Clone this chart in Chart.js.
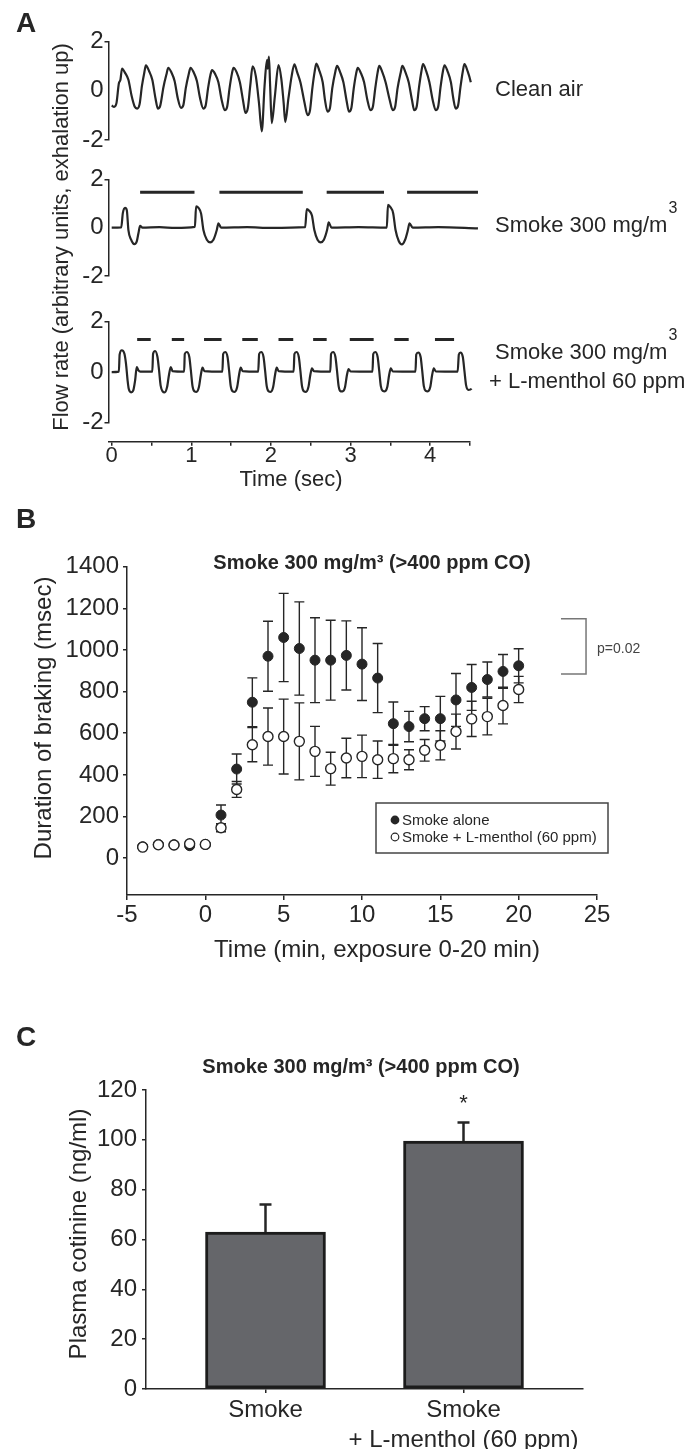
<!DOCTYPE html>
<html>
<head>
<meta charset="utf-8">
<script src="https://cdn.jsdelivr.net/npm/chart.js@4.4.1/dist/chart.umd.min.js"></script>
<style>
  html, body { margin: 0; padding: 0; background: #fff; }
  #page { position: relative; width: 689px; height: 1454px; overflow: hidden; background: #fff; }
  canvas { position: absolute; left: 0; }
</style>
</head>
<body>
<div id="page">
  <canvas id="a1" width="689" height="160" style="top:0px"></canvas>
  <canvas id="a2" width="689" height="140" style="top:160px"></canvas>
  <canvas id="a3" width="689" height="140" style="top:300px"></canvas>
  <canvas id="a4" width="689" height="500" style="top:0px"></canvas>
  <canvas id="b" width="689" height="500" style="top:500px"></canvas>
  <canvas id="c" width="689" height="454" style="top:1000px"></canvas>
</div>
<script>
const INK = '#262626';
const FONT = "'Liberation Sans', Arial, sans-serif";
Chart.defaults.font.family = FONT;
Chart.defaults.color = INK;

// ---- Panel A: flow traces, [time (s), flow (a.u.)]
const cleanAir = [[0.0,-0.6],[0.03,-0.65],
  [0.06,-0.5],[0.09,0.3],[0.11,0.45],[0.13,0.91],[0.17,0.72],[0.21,0.45],[0.25,-0.2],[0.29,-0.65],[0.32,-0.72],
  [0.35,-0.55],[0.38,0.2],[0.41,0.75],[0.43,1.04],[0.47,0.8],[0.51,0.45],[0.55,-0.3],[0.58,-0.72],
  [0.61,-0.6],[0.65,0.15],[0.69,0.7],[0.71,0.94],[0.75,0.75],[0.79,0.4],[0.83,-0.3],[0.87,-0.69],
  [0.9,-0.58],[0.93,0.1],[0.97,0.72],[0.99,0.94],[1.03,0.75],[1.07,0.4],[1.11,-0.3],[1.15,-0.72],
  [1.18,-0.6],[1.21,0.1],[1.24,0.65],[1.26,0.84],[1.3,0.68],[1.34,0.35],[1.38,-0.35],[1.42,-0.79],
  [1.45,-0.65],[1.48,0.1],[1.51,0.7],[1.53,0.94],[1.57,0.75],[1.61,0.35],[1.65,-0.4],[1.68,-0.9],
  [1.71,-0.7],[1.74,0.2],[1.77,1.0],[1.81,0.6],[1.85,-0.5],[1.885,-1.65],
  [1.92,0.2],[1.95,1.25],[1.96,0.9],[1.975,1.39],[1.99,0.2],[2.01,-1.31],[2.05,-0.2],[2.095,1.05],[2.13,0.5],
  [2.16,-0.5],[2.18,-1.27],[2.22,-0.3],[2.26,0.6],[2.295,1.08],[2.33,0.75],[2.37,0.35],[2.42,-0.45],[2.46,-0.99],
  [2.49,-0.8],[2.52,0.1],[2.55,0.8],[2.57,1.11],[2.61,0.8],[2.65,0.35],[2.68,-0.4],[2.71,-0.85],
  [2.74,-0.72],[2.77,0.1],[2.81,0.8],[2.83,1.02],[2.87,0.75],[2.91,0.35],[2.95,-0.4],[2.98,-0.85],
  [3.01,-0.7],[3.04,0.1],[3.07,0.7],[3.09,0.94],[3.13,0.72],[3.17,0.35],[3.21,-0.35],[3.25,-0.79],
  [3.28,-0.65],[3.31,0.1],[3.34,0.75],[3.36,1.02],[3.4,0.75],[3.44,0.35],[3.49,-0.35],[3.53,-0.79],
  [3.56,-0.65],[3.59,0.1],[3.63,0.75],[3.65,1.02],[3.69,0.75],[3.73,0.35],[3.77,-0.35],[3.8,-0.79],
  [3.83,-0.65],[3.86,0.15],[3.89,0.8],[3.91,1.09],[3.95,0.8],[3.99,0.35],[4.03,-0.35],[4.07,-0.79],
  [4.1,-0.65],[4.13,0.15],[4.16,0.8],[4.18,1.04],[4.22,0.78],[4.26,0.35],[4.29,-0.3],[4.32,-0.72],
  [4.35,-0.6],[4.38,0.15],[4.41,0.8],[4.43,1.09],[4.47,0.8],[4.51,0.35],[4.55,-0.35],[4.57,-0.65]];
const smoke300 = [[0.0,0],[0.12,0.01],[0.14,0.6],[0.168,0.82],[0.19,0.72],[0.21,-0.1],[0.244,-0.5],[0.27,-0.66],[0.286,-0.68],
  [0.315,-0.57],[0.336,-0.23],[0.357,0.07],[0.386,0.0],[0.6,0.02],[0.8,-0.01],[1.045,0.03],
  [1.06,0.88],[1.09,0.82],[1.123,0.58],[1.152,-0.1],[1.195,-0.5],[1.236,-0.61],[1.278,-0.5],[1.32,-0.1],[1.34,0.18],
  [1.374,0.0],[1.7,0.02],[2.0,-0.01],[2.43,0.02],
  [2.45,0.77],[2.48,0.7],[2.515,0.5],[2.545,-0.1],[2.585,-0.5],[2.625,-0.61],[2.665,-0.5],[2.705,-0.1],[2.725,0.22],
  [2.76,0.0],[3.1,0.02],[3.455,0],
  [3.47,0.94],[3.5,0.85],[3.535,0.6],[3.565,-0.1],[3.605,-0.55],[3.645,-0.69],[3.685,-0.5],[3.72,-0.1],[3.74,0.18],
  [3.78,0],[4.1,0.02],[4.6,-0.03]];
const smokeMenthol = [[0.0,0.0],[0.09,0.02],
  [0.1,0.7],[0.127,0.87],[0.16,0.73],[0.18,0.33],[0.2,-0.33],[0.215,-0.67],[0.244,-0.8],[0.27,-0.73],[0.294,-0.33],[0.315,0.2],[0.336,0.07],[0.36,0.02],[0.51,0.02],
  [0.52,0.73],[0.545,0.84],[0.575,0.6],[0.595,0.07],[0.615,-0.53],[0.64,-0.76],[0.665,-0.8],[0.695,-0.6],[0.72,-0.1],[0.742,0.2],[0.765,0.04],[0.91,0.02],
  [0.918,0.72],[0.943,0.8],[0.975,0.6],[0.995,0.05],[1.015,-0.55],[1.04,-0.76],[1.065,-0.78],[1.095,-0.6],[1.12,-0.1],[1.14,0.18],[1.165,0.04],[1.39,0.02],
  [1.4,0.72],[1.425,0.8],[1.455,0.6],[1.475,0.05],[1.495,-0.55],[1.52,-0.76],[1.545,-0.78],[1.575,-0.6],[1.6,-0.1],[1.62,0.18],[1.645,0.04],[1.84,0.02],
  [1.852,0.72],[1.877,0.8],[1.907,0.6],[1.927,0.05],[1.947,-0.55],[1.972,-0.76],[1.997,-0.78],[2.027,-0.6],[2.052,-0.1],[2.072,0.18],[2.097,0.04],[2.285,0.02],
  [2.295,0.72],[2.32,0.8],[2.35,0.6],[2.37,0.05],[2.39,-0.55],[2.415,-0.76],[2.44,-0.78],[2.47,-0.6],[2.495,-0.1],[2.515,0.15],[2.54,0.04],[2.745,0.02],
  [2.755,0.72],[2.78,0.8],[2.81,0.6],[2.83,0.05],[2.85,-0.55],[2.875,-0.76],[2.9,-0.76],[2.93,-0.6],[2.955,-0.1],[2.975,0.12],[3.0,0.03],[3.275,0.02],
  [3.285,0.72],[3.31,0.8],[3.34,0.6],[3.36,0.05],[3.38,-0.55],[3.405,-0.74],[3.43,-0.76],[3.46,-0.6],[3.485,-0.1],[3.505,0.15],[3.53,0.03],[3.815,0.02],
  [3.825,0.7],[3.85,0.78],[3.88,0.6],[3.9,0.05],[3.92,-0.55],[3.945,-0.74],[3.97,-0.76],[4.0,-0.6],[4.025,-0.1],[4.045,0.15],[4.07,0.03],[4.345,0.02],
  [4.36,0.7],[4.38,0.78],[4.41,0.6],[4.43,0.05],[4.45,-0.5],[4.48,-0.7],[4.52,-0.65],[4.56,-0.4]];
// braking periods (start, end in s) and the level the bars sit at
const smokeBraking = [[0.357,1.04],[1.353,2.4],[2.7,3.42],[3.71,4.6]];
const mentholBraking = [[0.32,0.49],[0.755,0.91],[1.16,1.38],[1.64,1.835],[2.095,2.28],[2.53,2.7],[2.99,3.29],[3.55,3.73],[4.06,4.3]];
const smokeBarLevel = 1.46;
const mentholBarLevel = 1.3;
const flowTicks = [-2, 0, 2];
const secTicks = [0, 0.5, 1, 1.5, 2, 2.5, 3, 3.5, 4, 4.5];

// ---- Panel B: duration of braking (msec), mean and SEM
const minutes = [-4,-3,-2,-1,0,1,2,3,4,5,6,7,8,9,10,11,12,13,14,15,16,17,18,19,20];
const smokeAlone = [55,66,64,60,66,207,428,749,970,1060,1007,951,951,974,932,865,646,632,670,670,760,820,858,897,924];
const smokeAloneSem = [5,5,5,5,5,48,72,117,168,212,224,204,192,166,175,166,104,73,58,107,127,110,84,81,82];
const withMenthol = [53,64,63,69,66,146,330,545,584,584,561,513,430,481,489,473,478,473,518,542,608,669,680,733,810];
const withMentholSem = [5,5,5,5,5,19,38,82,137,180,185,120,79,95,102,90,68,48,52,70,84,85,88,88,63];
const minuteTicks = [-5, 0, 5, 10, 15, 20, 25];
const brakeTicks = [0, 200, 400, 600, 800, 1000, 1200, 1400];

// ---- Panel C: plasma cotinine (ng/ml)
const groups = ['Smoke', ['Smoke', '+ L-menthol (60 ppm)']];
const groupPos = [1, 2];
const cotinine = [63, 99.5];
const cotinineSem = [11, 7.5];
const cotTicks = [0, 20, 40, 60, 80, 100, 120];

// ---------- helpers
function txt(ctx, s, x, y, o = {}) {
  ctx.save();
  ctx.font = o.font || `22px ${FONT}`;
  ctx.fillStyle = o.color || INK;
  ctx.textAlign = o.align || 'center';
  ctx.textBaseline = o.base || 'middle';
  ctx.translate(x, y);
  if (o.rot) ctx.rotate(o.rot);
  ctx.fillText(s, 0, 0);
  ctx.restore();
}
// "Smoke 300 mg/m" with a raised 3
function supLabel(ctx, s, x, y) {
  txt(ctx, s, x, y, { align: 'left' });
  ctx.save();
  ctx.font = `22px ${FONT}`;
  const w = ctx.measureText(s).width;
  ctx.restore();
  txt(ctx, '3', x + w + 1, y - 17, { align: 'left', font: `16px ${FONT}` });
}
const fixW = w => s => { s.width = w; };
const fixH = h => s => { s.height = h; };
const setTicks = vals => s => { s.ticks = vals.map(v => ({ value: v })); };
const xy = (xs, ys) => xs.map((x, i) => ({ x: x, y: ys[i] }));

const base = {
  responsive: false,
  maintainAspectRatio: false,
  animation: false,
  devicePixelRatio: 1,
  events: [],
  plugins: { legend: { display: false }, tooltip: { enabled: false } }
};
const axisLine = { color: INK, width: 1.5 };

// ---------- Panel A
const trace = pts => ({
  data: pts.map(p => ({ x: p[0], y: p[1] })),
  borderColor: INK, borderWidth: 2.2, pointRadius: 0,
  cubicInterpolationMode: 'monotone',
  borderJoinStyle: 'round', fill: false, clip: false
});
const brakeBars = (segs, lvl) => ({
  data: segs.flatMap(s => [{ x: s[0], y: lvl }, { x: s[1], y: lvl }, { x: s[1], y: null }]),
  borderColor: INK, borderWidth: 3, pointRadius: 0, spanGaps: false, fill: false, clip: false
});

function flowChart(id, padTop, padBottom, sets) {
  return new Chart(document.getElementById(id), {
    type: 'line',
    data: { datasets: sets },
    options: {
      ...base,
      layout: { padding: { left: 0, right: 219, top: padTop, bottom: padBottom } },
      scales: {
        x: { type: 'linear', display: false, min: -0.04, max: 4.5 },
        y: {
          min: -2, max: 2,
          afterFit: fixW(108.5),
          afterBuildTicks: setTicks(flowTicks),
          border: axisLine,
          grid: {
            drawOnChartArea: false, tickLength: 4, lineWidth: 1.5,
            color: c => (c.tick && c.tick.value === 0) ? 'rgba(0,0,0,0)' : INK
          },
          ticks: { font: { size: 24 }, padding: 1 }
        }
      }
    }
  });
}

flowChart('a1', 41.7, 20, [trace(cleanAir)]);
flowChart('a2', 19.3, 24, [trace(smoke300), brakeBars(smokeBraking, smokeBarLevel)]);
flowChart('a3', 21.7, 17.3, [trace(smokeMenthol), brakeBars(mentholBraking, mentholBarLevel)]);

// time axis and labels of panel A
new Chart(document.getElementById('a4'), {
  type: 'scatter',
  data: { datasets: [{ data: [] }] },
  options: {
    ...base,
    layout: { padding: { left: 108.5, right: 219, top: 420, bottom: 10 } },
    scales: {
      x: {
        type: 'linear', min: -0.04, max: 4.5,
        afterFit: fixH(48.3),
        afterBuildTicks: setTicks(secTicks),
        border: axisLine,
        grid: { drawOnChartArea: false, tickLength: 4, lineWidth: 1.5, color: INK },
        ticks: {
          font: { size: 22, lineHeight: 1 }, padding: -1, autoSkip: false, maxRotation: 0,
          callback: v => Number.isInteger(v) ? String(v) : ''
        }
      },
      y: { display: false, min: 0, max: 1 }
    }
  },
  plugins: [{
    id: 'panelAText',
    afterDraw(ch) {
      const ctx = ch.ctx;
      txt(ctx, 'A', 26, 24, { font: `bold 28px ${FONT}` });
      txt(ctx, 'Flow rate (arbitrary units, exhalation up)', 62, 237, { rot: -Math.PI / 2 });
      txt(ctx, 'Time (sec)', 291, 480);
      txt(ctx, 'Clean air', 495, 90, { align: 'left' });
      supLabel(ctx, 'Smoke 300 mg/m', 495, 226);
      supLabel(ctx, 'Smoke 300 mg/m', 495, 353);
      txt(ctx, '+ L-menthol 60 ppm', 489, 382, { align: 'left' });
    }
  }]
});

// ---------- Panel B
const errorBarsB = {
  id: 'errorBarsB',
  beforeDatasetsDraw(ch) {
    const { ctx } = ch, xs = ch.scales.x, ys = ch.scales.y;
    ctx.save();
    ctx.strokeStyle = INK;
    ctx.lineWidth = 1.4;
    [[smokeAlone, smokeAloneSem], [withMenthol, withMentholSem]].forEach(([m, e]) => {
      m.forEach((v, i) => {
        const px = xs.getPixelForValue(minutes[i]);
        const hi = ys.getPixelForValue(v + e[i]);
        const lo = ys.getPixelForValue(v - e[i]);
        ctx.beginPath();
        ctx.moveTo(px, hi); ctx.lineTo(px, lo);
        ctx.moveTo(px - 5, hi); ctx.lineTo(px + 5, hi);
        ctx.moveTo(px - 5, lo); ctx.lineTo(px + 5, lo);
        ctx.stroke();
      });
    });
    ctx.restore();
  }
};

const panelBText = {
  id: 'panelBText',
  afterDraw(ch) {
    const { ctx } = ch, xs = ch.scales.x, ys = ch.scales.y;
    txt(ctx, 'B', 26, 20, { font: `bold 28px ${FONT}` });
    txt(ctx, 'Smoke 300 mg/m\u00b3 (>400 ppm CO)', 372, 63, { font: `bold 20px ${FONT}` });
    txt(ctx, 'Duration of braking (msec)', 44, 218, { font: `24px ${FONT}`, rot: -Math.PI / 2 });
    txt(ctx, 'Time (min, exposure 0-20 min)', 377, 450, { font: `24px ${FONT}` });

    // legend
    ctx.save();
    ctx.strokeStyle = '#444';
    ctx.lineWidth = 1.5;
    ctx.strokeRect(376, 303, 232, 50);
    ctx.fillStyle = INK;
    ctx.beginPath(); ctx.arc(395, 320, 4.4, 0, Math.PI * 2); ctx.fill();
    ctx.fillStyle = '#fff';
    ctx.lineWidth = 1.2;
    ctx.strokeStyle = INK;
    ctx.beginPath(); ctx.arc(395, 337, 3.8, 0, Math.PI * 2); ctx.fill(); ctx.stroke();
    ctx.restore();
    txt(ctx, 'Smoke alone', 402, 321, { align: 'left', font: `15px ${FONT}` });
    txt(ctx, 'Smoke + L-menthol (60 ppm)', 402, 338, { align: 'left', font: `15px ${FONT}` });

    // significance bracket
    const bx0 = xs.getPixelForValue(22.7), bx1 = xs.getPixelForValue(24.3);
    const by0 = ys.getPixelForValue(1150), by1 = ys.getPixelForValue(885);
    ctx.save();
    ctx.strokeStyle = '#777';
    ctx.lineWidth = 1.5;
    ctx.beginPath();
    ctx.moveTo(bx0, by0); ctx.lineTo(bx1, by0); ctx.lineTo(bx1, by1); ctx.lineTo(bx0, by1);
    ctx.stroke();
    ctx.restore();
    txt(ctx, 'p=0.02', bx1 + 11, (by0 + by1) / 2 + 3, { align: 'left', font: `14px ${FONT}`, color: '#444' });
  }
};

new Chart(document.getElementById('b'), {
  type: 'scatter',
  data: {
    datasets: [
      { label: 'Smoke + L-menthol (60 ppm)', data: xy(minutes, withMenthol),
        pointRadius: 5, pointBackgroundColor: '#fff', pointBorderColor: INK, pointBorderWidth: 1.4 },
      { label: 'Smoke alone', data: xy(minutes, smokeAlone),
        pointRadius: 5, pointBackgroundColor: INK, pointBorderColor: INK, pointBorderWidth: 1 }
    ]
  },
  options: {
    ...base,
    layout: { padding: { left: 0, right: 92, top: 66.7, bottom: 20 } },
    scales: {
      x: {
        type: 'linear', min: -5, max: 25,
        afterFit: fixH(85),
        afterBuildTicks: setTicks(minuteTicks),
        border: axisLine,
        grid: { drawOnChartArea: false, tickLength: 5, lineWidth: 1.5, color: INK },
        ticks: { font: { size: 24 }, padding: 1, autoSkip: false, maxRotation: 0, callback: v => String(v) }
      },
      y: {
        min: -177, max: 1400,
        afterFit: fixW(127),
        afterBuildTicks: setTicks(brakeTicks),
        border: axisLine,
        grid: { drawOnChartArea: false, tickLength: 4, lineWidth: 1.5, color: INK },
        ticks: { font: { size: 24 }, padding: 4, callback: v => String(v) }
      }
    }
  },
  plugins: [errorBarsB, panelBText]
});

// ---------- Panel C
const panelC = {
  id: 'panelC',
  afterDatasetsDraw(ch) {
    const { ctx } = ch, xs = ch.scales.x, ys = ch.scales.y;
    ctx.save();
    ctx.strokeStyle = INK;
    ctx.lineWidth = 2.5;
    cotinine.forEach((v, i) => {
      const px = xs.getPixelForValue(groupPos[i]);
      const top = ys.getPixelForValue(v + cotinineSem[i]);
      ctx.beginPath();
      ctx.moveTo(px, ys.getPixelForValue(v)); ctx.lineTo(px, top);
      ctx.moveTo(px - 6, top); ctx.lineTo(px + 6, top);
      ctx.stroke();
    });
    ctx.restore();
    // significance star over the menthol group
    txt(ctx, '*', xs.getPixelForValue(groupPos[1]), ys.getPixelForValue(116.7) + 12,
      { font: `22px ${FONT}`, base: 'alphabetic' });
  },
  afterDraw(ch) {
    const ctx = ch.ctx;
    txt(ctx, 'C', 26, 38, { font: `bold 28px ${FONT}` });
    txt(ctx, 'Smoke 300 mg/m\u00b3 (>400 ppm CO)', 361, 67, { font: `bold 20px ${FONT}` });
    txt(ctx, 'Plasma cotinine (ng/ml)', 79, 234, { font: `24px ${FONT}`, rot: -Math.PI / 2 });
  }
};

new Chart(document.getElementById('c'), {
  type: 'bar',
  data: {
    datasets: [{
      data: xy(groupPos, cotinine),
      backgroundColor: '#65666a', borderColor: '#1c1c1c', borderWidth: 3,
      borderSkipped: false, barThickness: 120
    }]
  },
  options: {
    ...base,
    layout: { padding: { left: 0, right: 106, top: 90, bottom: 5 } },
    scales: {
      x: {
        type: 'linear', min: 0.3965, max: 2.6035, offset: false,
        afterFit: fixH(60),
        afterBuildTicks: setTicks(groupPos),
        border: axisLine,
        grid: { offset: false, drawOnChartArea: false, tickLength: 4, lineWidth: 1.5, color: INK },
        ticks: { font: { size: 24, lineHeight: 1.25 }, padding: 2, autoSkip: false, maxRotation: 0,
          callback: v => groups[groupPos.indexOf(v)] }
      },
      y: {
        min: 0, max: 120,
        afterFit: fixW(146),
        afterBuildTicks: setTicks(cotTicks),
        border: axisLine,
        grid: { drawOnChartArea: false, tickLength: 4, lineWidth: 1.5, color: INK },
        ticks: { font: { size: 24 }, padding: 5 }
      }
    }
  },
  plugins: [panelC]
});
</script>
</body>
</html>
